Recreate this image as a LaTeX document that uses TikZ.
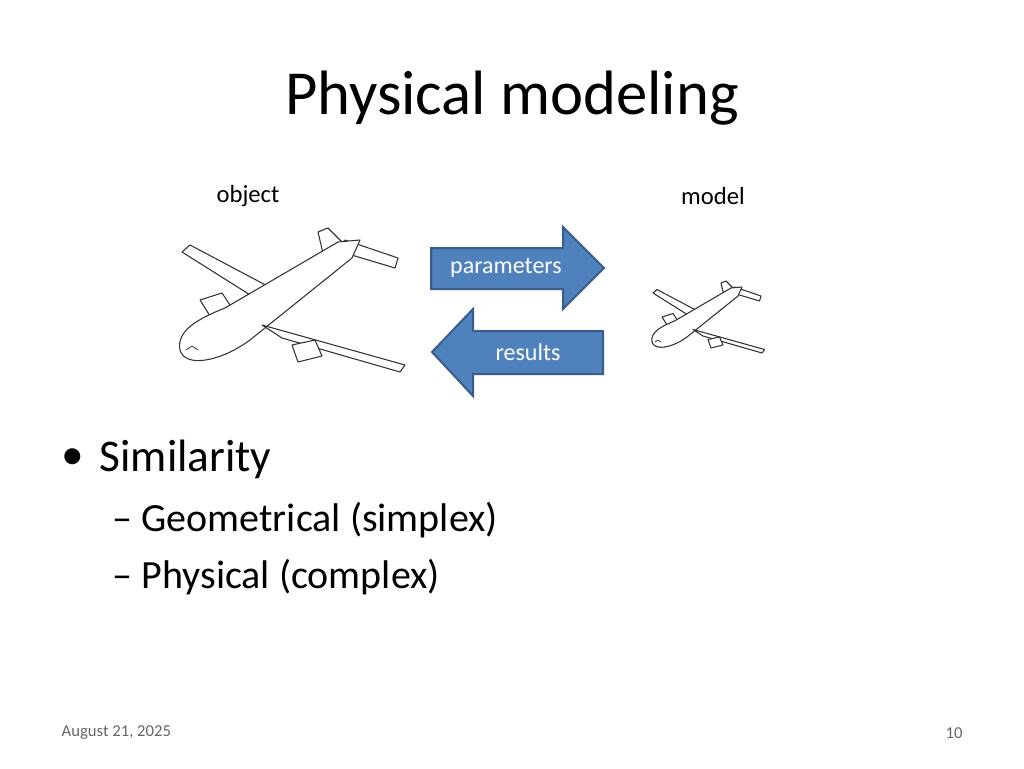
\documentclass[tikz,border=0pt]{standalone}
\usepackage{fontspec}
\setmainfont{Carlito}
\usetikzlibrary{positioning}
\definecolor{arrowfill}{HTML}{4F81BD}
\definecolor{arrowline}{HTML}{385D8A}
\tikzset{
  arrowbody/.style={fill=arrowfill,draw=arrowline,line width=1.5pt},
  arrowtext/.style={text=white,font=\fontsize{18}{21}\selectfont},
  planeline/.style={draw=black!80,fill=white,line width=0.8pt,line join=round},
  lbl/.style={font=\fontsize{18.5}{22}\selectfont}
}
% airplane sketch, local coordinates in px of the large one
\newcommand{\plane}[1]{%
  \begin{scope}[#1]
    % wing upper-left
    \path[planeline] (255,298) -- (182,252) -- (190,245) -- (275,290) -- cycle;
    % engine upper
    \path[planeline] (200,300) -- (222,293) -- (232,308) -- (210,316) -- cycle;
    % vertical fin
    \path[planeline] (325,262) -- (318,232) -- (328,228) -- (350,250) -- cycle;
    % horizontal tail
    \path[planeline] (335,250) -- (345,240) -- (398,258) -- (395,268) -- cycle;
    % fuselage
    \path[planeline] (180,350) .. controls (176,330) and (200,318) .. (225,308)
      -- (338,242) -- (360,240) -- (352,258) -- (250,340)
      .. controls (220,362) and (185,368) .. (180,350) -- cycle;
    % wing lower-right
    \path[planeline] (262,325) -- (405,365) -- (400,372) -- (282,338) -- cycle;
    % engine lower
    \path[planeline] (292,345) -- (315,340) -- (322,356) -- (298,362) -- cycle;
    % cockpit
    \draw[black!80,line width=0.6pt] (186,350) -- (192,346) -- (198,350);
  \end{scope}}
\begin{document}
\begin{tikzpicture}[x=0.75pt,y=-0.75pt]
  \useasboundingbox (0,0) rectangle (1024,768);
  \node[font=\fontsize{47}{56}\selectfont] (title) at (512,98) {Physical modeling};
  \node[lbl] (object) at (248,196) {object};
  \node[lbl] (model) at (713,196) {model};
  % planes
  \plane{}
  \plane{shift={(562,167)},scale=0.5}
  % arrows
  \path[arrowbody] (431,248) -- (563,248) -- (563,227) -- (604,268) -- (563,309)
    -- (563,289) -- (431,289) -- cycle;
  \node[arrowtext] (parameters) at (506,268) {parameters};
  \path[arrowbody] (603,331) -- (473,331) -- (473,309) -- (432,352) -- (473,396)
    -- (473,374) -- (603,374) -- cycle;
  \node[arrowtext] (results) at (528,352) {results};
  % bullets
  \node[font=\fontsize{34}{40}\selectfont] (dot) at (73,459) {•};
  \node[anchor=west,font=\fontsize{34}{40}\selectfont] (sim) at (95,459) {Similarity};
  \node[anchor=west,font=\fontsize{30}{36}\selectfont] (geo) at (108,520) {– Geometrical (simplex)};
  \node[anchor=west,font=\fontsize{30}{36}\selectfont] (phys) at (108,577) {– Physical (complex)};
  % footer
  \node[anchor=west,text=black!60,font=\fontsize{12.5}{15}\selectfont] (date) at (57,733) {August 21, 2025};
  \node[text=black!60,font=\fontsize{12.5}{15}\selectfont] (page) at (954,733) {10};
\end{tikzpicture}
\end{document}
